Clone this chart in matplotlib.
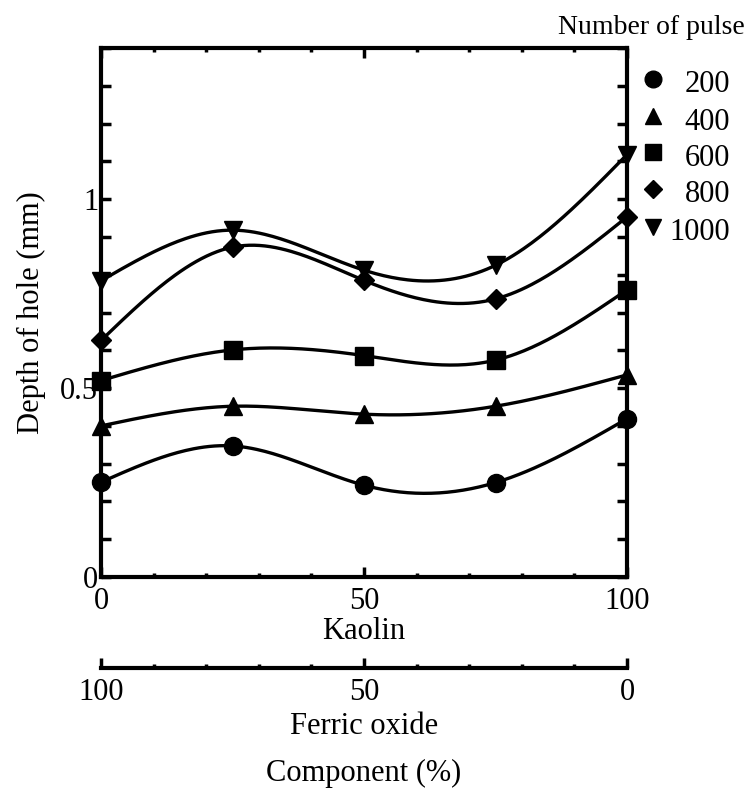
import numpy as np
import matplotlib
matplotlib.use("Agg")
import matplotlib.pyplot as plt
from matplotlib.lines import Line2D
from matplotlib.ticker import MultipleLocator

plt.rcParams["font.family"] = ["Liberation Serif", "DejaVu Serif"]
plt.rcParams["font.size"] = 22

# kaolin content (%) and depth of hole (mm) for each number of pulses
kaolin = [0, 25, 50, 75, 100]
pulses = ["200", "400", "600", "800", "1000"]
depth_200 = [0.251, 0.347, 0.243, 0.250, 0.419]
depth_400 = [0.400, 0.452, 0.431, 0.452, 0.535]
depth_600 = [0.520, 0.601, 0.586, 0.574, 0.760]
depth_800 = [0.626, 0.873, 0.785, 0.736, 0.953]
depth_1000 = [0.784, 0.918, 0.812, 0.825, 1.118]
markers = ["o", "^", "s", "D", "v"]
marker_sizes = [13, 13, 13, 10, 13]


def natural_spline(x, y, n=200):
    # plain natural cubic spline, no scipy needed
    x = np.asarray(x, float)
    y = np.asarray(y, float)
    k = len(x)
    h = np.diff(x)
    A = np.zeros((k, k))
    b = np.zeros(k)
    A[0, 0] = A[-1, -1] = 1
    for i in range(1, k - 1):
        A[i, i - 1] = h[i - 1]
        A[i, i] = 2 * (h[i - 1] + h[i])
        A[i, i + 1] = h[i]
        b[i] = 6 * ((y[i + 1] - y[i]) / h[i] - (y[i] - y[i - 1]) / h[i - 1])
    m = np.linalg.solve(A, b)
    xs = np.linspace(x[0], x[-1], n)
    idx = np.clip(np.searchsorted(x, xs) - 1, 0, k - 2)
    t0 = xs - x[idx]
    t1 = x[idx + 1] - xs
    hi = h[idx]
    ys = (m[idx] * t1**3 + m[idx + 1] * t0**3) / (6 * hi) \
        + (y[idx] / hi - m[idx] * hi / 6) * t1 \
        + (y[idx + 1] / hi - m[idx + 1] * hi / 6) * t0
    return xs, ys


fig = plt.figure(figsize=(7.5, 7.91), dpi=100)
ax = fig.add_axes([0.1347, 0.2705, 0.7013, 0.6688])

series = [depth_200, depth_400, depth_600, depth_800, depth_1000]
for vals, mk, ms in zip(series, markers, marker_sizes):
    xs, ys = natural_spline(kaolin, vals)
    ax.plot(xs, ys, color="black", lw=2.4, clip_on=False)
    ax.plot(kaolin, vals, ls="none", marker=mk, ms=ms, color="black", clip_on=False, zorder=3)

ax.set_xlim(0, 100)
ax.set_ylim(0, 1.4)
ax.set_xticks([0, 50, 100])
ax.set_yticks([0, 0.5, 1])
ax.set_yticklabels(["0", "0.5", "1"])
ax.xaxis.set_minor_locator(MultipleLocator(10))
ax.yaxis.set_minor_locator(MultipleLocator(0.1))
ax.tick_params(which="both", direction="in", top=True, right=True, width=2.5)
ax.tick_params(axis="x", which="major", length=7, pad=7)
ax.tick_params(axis="x", which="minor", length=3)
ax.tick_params(axis="y", which="both", length=7, pad=2)
for sp in ax.spines.values():
    sp.set_linewidth(3)
ax.set_xlabel("Kaolin", labelpad=1)
ax.set_ylabel("Depth of hole (mm)", labelpad=10)

# second scale for ferric oxide underneath
ax2 = fig.add_axes([0.1347, 0.1555, 0.7013, 0.01])
ax2.set_xlim(100, 0)
ax2.set_xticks([100, 50, 0])
ax2.xaxis.set_minor_locator(MultipleLocator(10))
ax2.set_yticks([])
for side in ["top", "left", "right"]:
    ax2.spines[side].set_visible(False)
ax2.spines["bottom"].set_linewidth(3)
ax2.patch.set_visible(False)
ax2.tick_params(which="both", direction="in", width=2.5, pad=7)
ax2.tick_params(which="major", length=7)
ax2.tick_params(which="minor", length=3)
ax2.set_xlabel("Ferric oxide", labelpad=4)

fig.text(364 / 750, 1 - 773 / 791, "Component (%)", ha="center", va="center")

# legend drawn by hand so the labels line up on the right
fig.text(0.993, 1 - 28 / 791, "Number of pulse", ha="right", va="center", fontsize=20)
leg_y = [85, 122, 158, 195, 233]
for lab, mk, ms, yy in zip(pulses, markers, marker_sizes, leg_y):
    fig.add_artist(Line2D([653 / 750], [1 - (yy - 6) / 791], transform=fig.transFigure,
                          marker=mk, ms=ms - 1, color="black", ls="none"))
    fig.text(730 / 750, 1 - yy / 791, lab, ha="right", va="center")

fig.savefig("out.png", dpi=100)
